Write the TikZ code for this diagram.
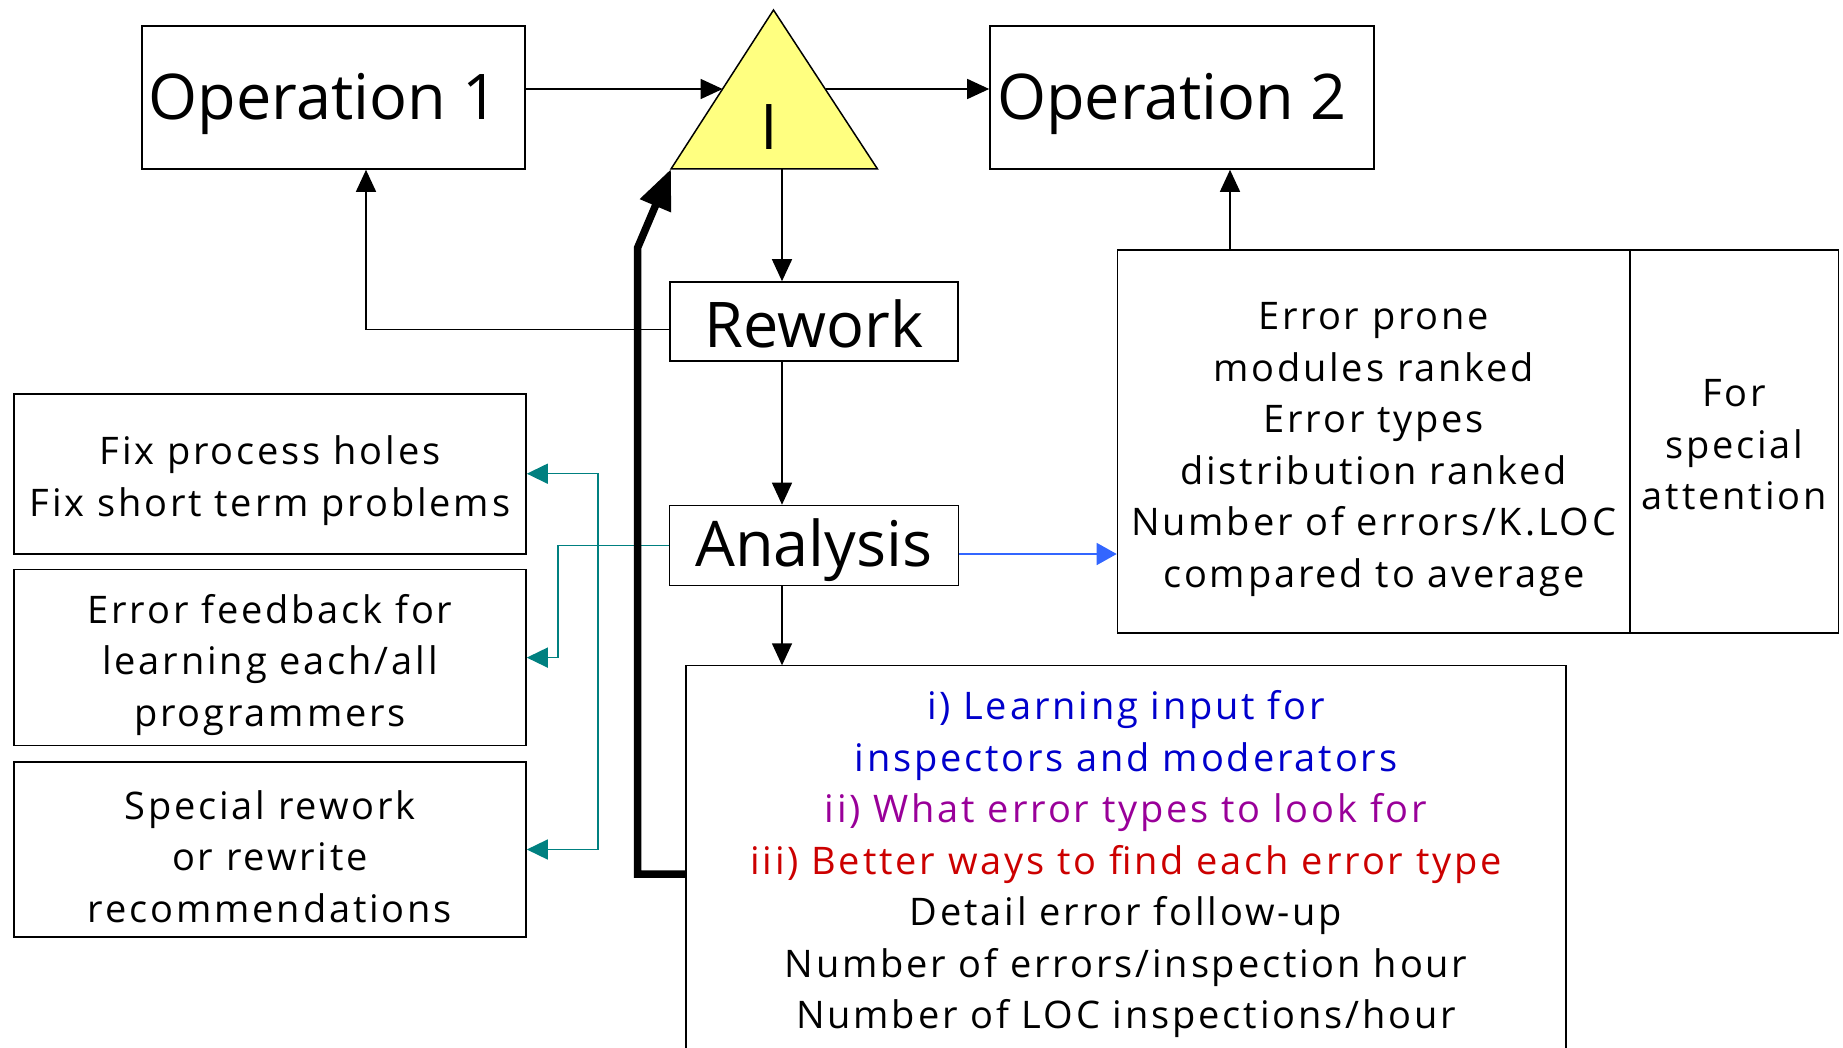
\documentclass[tikz,border=0pt]{standalone}
\usepackage{fontspec}
\setmainfont{Open Sans}
\newfontfamily\spacedfont[LetterSpace=7.5]{Open Sans}
\usetikzlibrary{arrows.meta}
\definecolor{tealline}{RGB}{0,128,128}
\definecolor{bluearrow}{RGB}{51,102,255}
\definecolor{txtblue}{RGB}{0,0,204}
\definecolor{txtpurple}{RGB}{153,0,153}
\definecolor{txtred}{RGB}{204,0,0}
\definecolor{triyellow}{RGB}{255,255,128}
\begin{document}
\begin{tikzpicture}[x=1pt,y=-1pt,
  box/.style={draw, line width=1.6pt, inner sep=0pt},
  big/.style={inner sep=0pt, font=\fontsize{63}{70}\selectfont},
  body/.style={inner sep=0pt, font=\spacedfont\fontsize{38}{51.5}\selectfont, align=center},
  conn/.style={line width=1.5pt, -{Triangle[length=22pt,width=20pt]}},
  tealconn/.style={tealline, line width=1.5pt, -{Triangle[length=21pt,width=20pt]}},
  blueconn/.style={bluearrow, line width=1.5pt, -{Triangle[length=20pt,width=22pt]}},
  feedback/.style={line width=7.5pt, line join=miter, -{Triangle[length=40pt,width=32pt]}}
]
\useasboundingbox (0,0) rectangle (1843,1048);

% upper row: operations and the inspection triangle
\node[box, minimum width=383, minimum height=143] (op1) at (333.5,97.5) {};
\node[big] (op1txt) at (323.5,104) {Operation 1};
\node[box, minimum width=384, minimum height=143] (op2) at (1182,97.5) {};
\node[big] (op2txt) at (1172,104) {Operation 2};

\coordinate (apex) at (773.5,10);
\coordinate (bl) at (671,169);
\coordinate (br) at (877.5,169);
\draw[line width=1.5pt, fill=triyellow, line join=miter] (bl) -- (apex) -- (br) -- cycle;
\node[big] (tri) at (769,127) {I};
\coordinate (triL) at (722.6,89);
\coordinate (triR) at (826,89);
\coordinate (triB) at (782,169);

% middle column
\node[box, minimum width=288, minimum height=79] (rework) at (814,321.5) {};
\node[big] (reworktxt) at (814,323.5) {Rework};
\node[box, minimum width=289, minimum height=80] (analysis) at (814,545.5) {};
\node[big] (analysistxt) at (814,550) {Analysis};

% left column of results
\node[box, minimum width=512, minimum height=160] (boxA) at (270,473.7) {};
\node[body] (boxAtxt) at (270,480.7) {Fix process holes\\Fix short term problems};
\node[box, minimum width=512, minimum height=176] (boxB) at (270,657.6) {};
\node[body] (boxBtxt) at (270,664.6) {Error feedback for\\learning each/all\\programmers};
\node[box, minimum width=512, minimum height=175.5] (boxC) at (270,849.5) {};
\node[body] (boxCtxt) at (270,856.5) {Special rework\\or rewrite\\recommendations};

% right block of rankings
\node[box, minimum width=512.5, minimum height=383] (errbox) at (1373.75,441.5) {};
\node[body] (errtxt) at (1373.75,449.5)
  {Error prone\\modules ranked\\Error types\\distribution ranked\\Number of errors/K.LOC\\compared to average};
\node[box, minimum width=208.5, minimum height=383] (attn) at (1734.25,441.5) {};
\node[body] (attntxt) at (1734.25,445) {For\\special\\attention};

% lower block, running past the bottom edge
\node[inner sep=0pt, minimum width=880, minimum height=382.5] (bot) at (1126,856.75) {};
\draw[line width=1.6pt] (bot.south west) -- (bot.north west) -- (bot.north east) -- (bot.south east);
\node[body] (bottxt) at (1126,864.5) {%
  \textcolor{txtblue}{i) Learning input for}\\
  \textcolor{txtblue}{inspectors and moderators}\\
  \textcolor{txtpurple}{ii) What error types to look for}\\
  \textcolor{txtred}{iii) Better ways to find each error type}\\
  Detail error follow-up\\
  Number of errors/inspection hour\\
  Number of LOC inspections/hour};

% connectors
\coordinate (rwL) at (0,329.3);
\coordinate (ey) at (0,554);
\coordinate (ox) at (1230,0);
\coordinate (tj) at (598,545.3);
\coordinate (tk) at (558,545.3);
\coordinate (thk) at (0,874);

\draw[conn] (op1.east |- triL) -- (triL);
\draw[conn] (triR) -- (triR -| op2.west);
\draw[conn] (triB) -- (triB |- rework.north);
\draw[conn] (triB |- rework.south) -- (triB |- analysis.north);
\draw[conn] (triB |- analysis.south) -- (triB |- bot.north);
\draw[conn] (rework.west |- rwL) -| ([xshift=32.5pt]op1.south);
\draw[conn] (ox |- errbox.north) -- (ox |- op2.south);
\draw[blueconn] (analysis.east |- ey) -- (errbox.west |- ey);

\draw[tealline, line width=1.5pt] (analysis.west |- tj) -- (tk);
\draw[tealconn] (tk) |- (boxB.east);
\draw[tealconn] (tj) |- (boxA.east);
\draw[tealconn] (tj) |- (boxC.east);

\draw[feedback] (bot.west |- thk) -- (637.5,874) -- (637.5,248) -- (bl);
\end{tikzpicture}
\end{document}
